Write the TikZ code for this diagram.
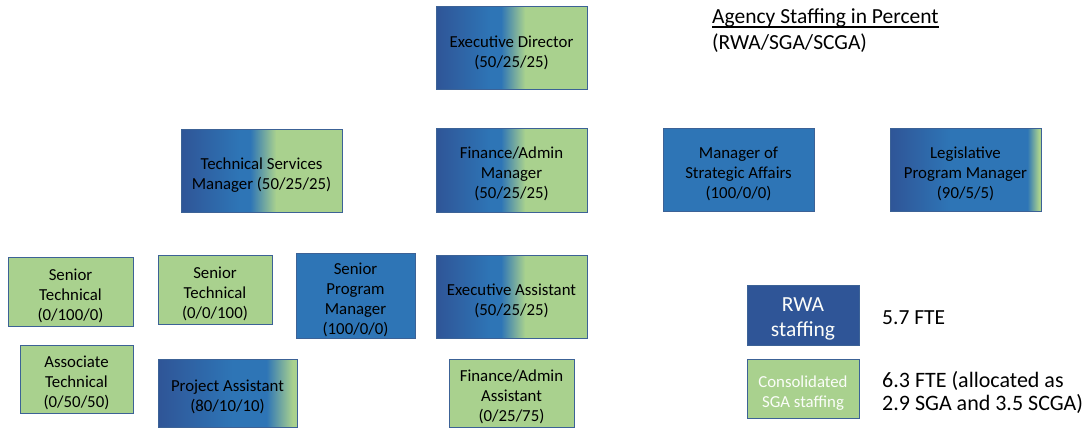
\documentclass[tikz,border=0pt]{standalone}
\usepackage{fontspec}
\setmainfont{Carlito}
\definecolor{rwadark}{RGB}{47,85,151}
\definecolor{rwamid}{RGB}{46,117,182}
\definecolor{sgagreen}{RGB}{169,209,142}
\definecolor{bordc}{RGB}{60,98,150}
\newcommand\tstrut{\rule{0pt}{20pt}}
\newcommand\bigstrut{\rule{0pt}{22pt}}
\pgfdeclarehorizontalshading{gfifty}{100bp}{color(0bp)=(rwadark); color(25bp)=(rwadark); color(43bp)=(rwamid); color(46.5bp)=(rwamid); color(54.5bp)=(sgagreen); color(100bp)=(sgagreen)}
\pgfdeclarehorizontalshading{geighty}{100bp}{color(0bp)=(rwadark); color(25bp)=(rwadark); color(52bp)=(rwamid); color(64bp)=(rwamid); color(73.5bp)=(sgagreen); color(100bp)=(sgagreen)}
\pgfdeclarehorizontalshading{gninety}{100bp}{color(0bp)=(rwadark); color(25bp)=(rwadark); color(45bp)=(rwamid); color(70.5bp)=(rwamid); color(74.3bp)=(sgagreen); color(100bp)=(sgagreen)}
\tikzset{
  box/.style={draw=bordc, line width=1pt, inner sep=0pt, align=center,
    font=\fontsize{16.8}{20}\selectfont, text=black},
  mixbox/.style={box, shading=gfifty},
  greenbox/.style={box, fill=sgagreen},
  bluebox/.style={box, fill=rwamid},
  plain/.style={inner sep=0pt, text=black, font=\fontsize{21.5}{26}\selectfont},
}
\begin{document}
\begin{tikzpicture}[x=1pt, y=-1pt]
\useasboundingbox (0,0) rectangle (1088,428);
\clip (0,0) rectangle (1088,428);
% top
\node[mixbox, minimum width=151pt, minimum height=83pt] (ed) at (511.5,48.5) {\tstrut Executive Director\\(50/25/25)};
% managers
\node[mixbox, minimum width=161pt, minimum height=83pt] (tsm) at (261.5,170.5) {\tstrut Technical Services\\Manager (50/25/25)};
\node[mixbox, minimum width=151pt, minimum height=84pt] (fam) at (511.5,170) {\tstrut Finance/Admin\\Manager\\(50/25/25)};
\node[bluebox, minimum width=151pt, minimum height=83pt] (msa) at (738.5,169.5) {\tstrut Manager of\\Strategic Affairs\\(100/0/0)};
\node[box, shading=gninety, minimum width=151pt, minimum height=83pt] (lpm) at (965.5,169.5) {\tstrut Legislative\\Program Manager\\(90/5/5)};
% staff
\node[greenbox, minimum width=125pt, minimum height=69pt] (st1) at (70.5,291.5) {\tstrut Senior\\Technical\\(0/100/0)};
\node[greenbox, minimum width=114pt, minimum height=69pt] (st2) at (215,289.5) {\tstrut Senior\\Technical\\(0/0/100)};
\node[bluebox, minimum width=119pt, minimum height=85pt] (spm) at (355.5,295.5) {\tstrut Senior\\Program\\Manager\\(100/0/0)};
\node[mixbox, minimum width=151pt, minimum height=83pt] (ea) at (511.5,296.5) {\tstrut Executive Assistant\\(50/25/25)};
\node[greenbox, minimum width=113pt, minimum height=68pt] (at) at (76.5,379) {\tstrut Associate\\Technical\\(0/50/50)};
\node[box, shading=geighty, minimum width=139pt, minimum height=68pt] (pa) at (227.5,393) {\tstrut Project Assistant\\(80/10/10)};
\node[greenbox, minimum width=125pt, minimum height=68pt] (faa) at (511.5,393) {\tstrut Finance/Admin\\Assistant\\(0/25/75)};
% legend
\node[box, fill=rwadark, text=white!96!sgagreen, font=\fontsize{21.5}{25}\selectfont, minimum width=112pt, minimum height=60pt] (rwa) at (803,315) {\bigstrut RWA\\staffing};
\node[greenbox, text=white!95!sgagreen, minimum width=112pt, minimum height=59pt] (cons) at (803,388.5) {\tstrut Consolidated\\SGA staffing};
\node[plain, anchor=base west] (fte1) at (882,324) {5.7 FTE};
\node[plain, anchor=base west, font=\fontsize{22}{23}\selectfont] (fte2a) at (882,387) {6.3 FTE (allocated as};
\node[plain, anchor=base west, font=\fontsize{22}{23}\selectfont] (fte2b) at (882,410) {2.9 SGA and 3.5 SCGA)};
% title
\node[plain, anchor=base west] (t1) at (712,24) {Agency Staffing in Percent};
\node[plain, anchor=base west] (t2) at (712,50) {(RWA/SGA/SCGA)};
\draw[line width=1.2pt] ([yshift=-3pt]t1.base west) -- ([yshift=-3pt]t1.base east);
\end{tikzpicture}
\end{document}
